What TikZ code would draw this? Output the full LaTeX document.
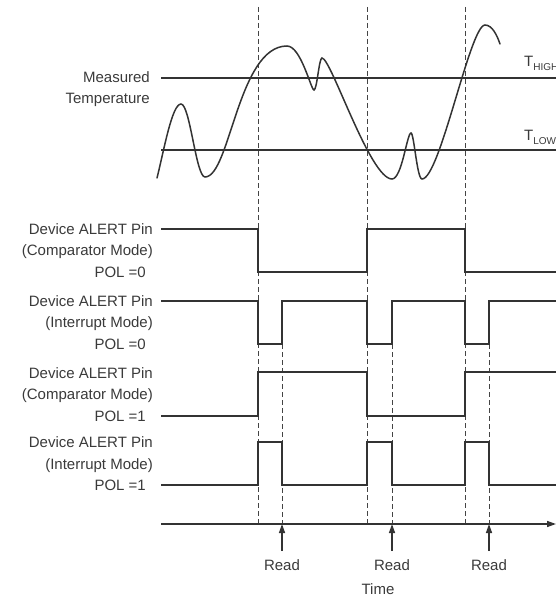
\documentclass[tikz,border=0pt]{standalone}
\usepackage{fontspec}
\setmainfont{Liberation Sans}
\usetikzlibrary{arrows.meta}
\definecolor{linecol}{HTML}{333333}
\definecolor{dashcol}{HTML}{444444}
\definecolor{textcol}{HTML}{3A3A3A}
\begin{document}
\begin{tikzpicture}[x=1pt,y=-1pt,
  sig/.style={line width=1.4pt, draw=linecol, line join=miter},
  curvestyle/.style={line width=1.5pt, draw=linecol, line cap=round},
  guide/.style={line width=0.8pt, draw=dashcol, dash pattern=on 5pt off 3pt},
  lbl/.style={font=\fontsize{15}{15}\selectfont, text=textcol, inner sep=0pt, anchor=base east},
  ctr/.style={font=\fontsize{15}{15}\selectfont, text=textcol, inner sep=0pt, anchor=base},
  thr/.style={font=\fontsize{15}{15}\selectfont, text=textcol, inner sep=0pt, anchor=base west},
  tip/.style={-{Triangle[length=9pt,width=6pt]}, line width=1.4pt, draw=linecol, fill=linecol},
]
\useasboundingbox (0,0) rectangle (556,599);
\clip (0,0) rectangle (556,599);

% time coordinates
\coordinate (a1) at (258,0);
\coordinate (a2) at (367,0);
\coordinate (a3) at (465,0);
\coordinate (r1) at (282,0);
\coordinate (r2) at (392,0);
\coordinate (r3) at (489,0);

% dashed guide lines
\draw[guide] (258,7) -- (258,524);
\draw[guide] (367,7) -- (367,524);
\draw[guide] (465,7) -- (465,524);
\draw[guide] (282,344) -- (282,524);
\draw[guide] (392,344) -- (392,524);
\draw[guide] (489,344) -- (489,524);

% thresholds
\draw[sig] (161,78) -- (556,78);
\draw[sig] (161,150) -- (556,150);
\node[thr] (thigh) at (524,67) {T\raisebox{-4pt}{\fontsize{10}{10}\selectfont HIGH}};
\node[thr] (tlow) at (524,140) {T\raisebox{-4pt}{\fontsize{10}{10}\selectfont LOW}};

% measured temperature curve
\draw[curvestyle] (157,178)
  .. controls (164,150) and (172,104) .. (181,104)
  .. controls (190,104) and (196,177) .. (205,177)
  .. controls (230,177) and (238,46) .. (287,46)
  .. controls (301,46) and (311,90) .. (314,90)
  .. controls (317,90) and (319,58) .. (322,58)
  .. controls (331,58) and (370,179) .. (392,179)
  .. controls (402,179) and (407,133) .. (411,133)
  .. controls (414,133) and (417,179) .. (422,179)
  .. controls (440,179) and (470,25) .. (485,25)
  .. controls (492,25) and (497,35) .. (500,44);

\node[lbl] (meas1) at (150,83) {Measured};
\node[lbl] (meas2) at (150,103) {Temperature};

% row 1: comparator, POL=0
\draw[sig] (161,229) -- (258,229) -- (258,272) -- (367,272) -- (367,229) -- (465,229) -- (465,272) -- (556,272);
\node[lbl] (l1a) at (153,234.4) {Device ALERT Pin};
\node[lbl] (l1b) at (153,255.6) {(Comparator Mode)};
\node[lbl] (l1c) at (146,277) {POL =0};

% row 2: interrupt, POL=0
\draw[sig] (161,301) -- (258,301) -- (258,344) -- (282,344) -- (282,301) -- (367,301) -- (367,344) -- (392,344) -- (392,301) -- (465,301) -- (465,344) -- (489,344) -- (489,301) -- (556,301);
\node[lbl] (l2a) at (153,306.4) {Device ALERT Pin};
\node[lbl] (l2b) at (153,327.6) {(Interrupt Mode)};
\node[lbl] (l2c) at (146,349) {POL =0};

% row 3: comparator, POL=1
\draw[sig] (161,416) -- (258,416) -- (258,372) -- (367,372) -- (367,416) -- (465,416) -- (465,372) -- (556,372);
\node[lbl] (l3a) at (153,378) {Device ALERT Pin};
\node[lbl] (l3b) at (153,399.5) {(Comparator Mode)};
\node[lbl] (l3c) at (146,421) {POL =1};

% row 4: interrupt, POL=1
\draw[sig] (161,485) -- (258,485) -- (258,442) -- (282,442) -- (282,485) -- (367,485) -- (367,442) -- (392,442) -- (392,485) -- (465,485) -- (465,442) -- (489,442) -- (489,485) -- (556,485);
\node[lbl] (l4a) at (153,447.4) {Device ALERT Pin};
\node[lbl] (l4b) at (153,469) {(Interrupt Mode)};
\node[lbl] (l4c) at (146,490.4) {POL =1};

% time axis
\coordinate (ax0) at (161,524);
\coordinate (ax1) at (556,524);
\draw[tip] (ax0) -- (ax1);

% read arrows
\coordinate (rb1) at (282,551); \coordinate (rt1) at (282,524);
\coordinate (rb2) at (392,551); \coordinate (rt2) at (392,524);
\coordinate (rb3) at (489,551); \coordinate (rt3) at (489,524);
\draw[tip] (rb1) -- (rt1);
\draw[tip] (rb2) -- (rt2);
\draw[tip] (rb3) -- (rt3);
\node[ctr] (read1) at (282,570) {Read};
\node[ctr] (read2) at (392,570) {Read};
\node[ctr] (read3) at (489,570) {Read};
\node[ctr] (time) at (378,594) {Time};
\end{tikzpicture}
\end{document}
